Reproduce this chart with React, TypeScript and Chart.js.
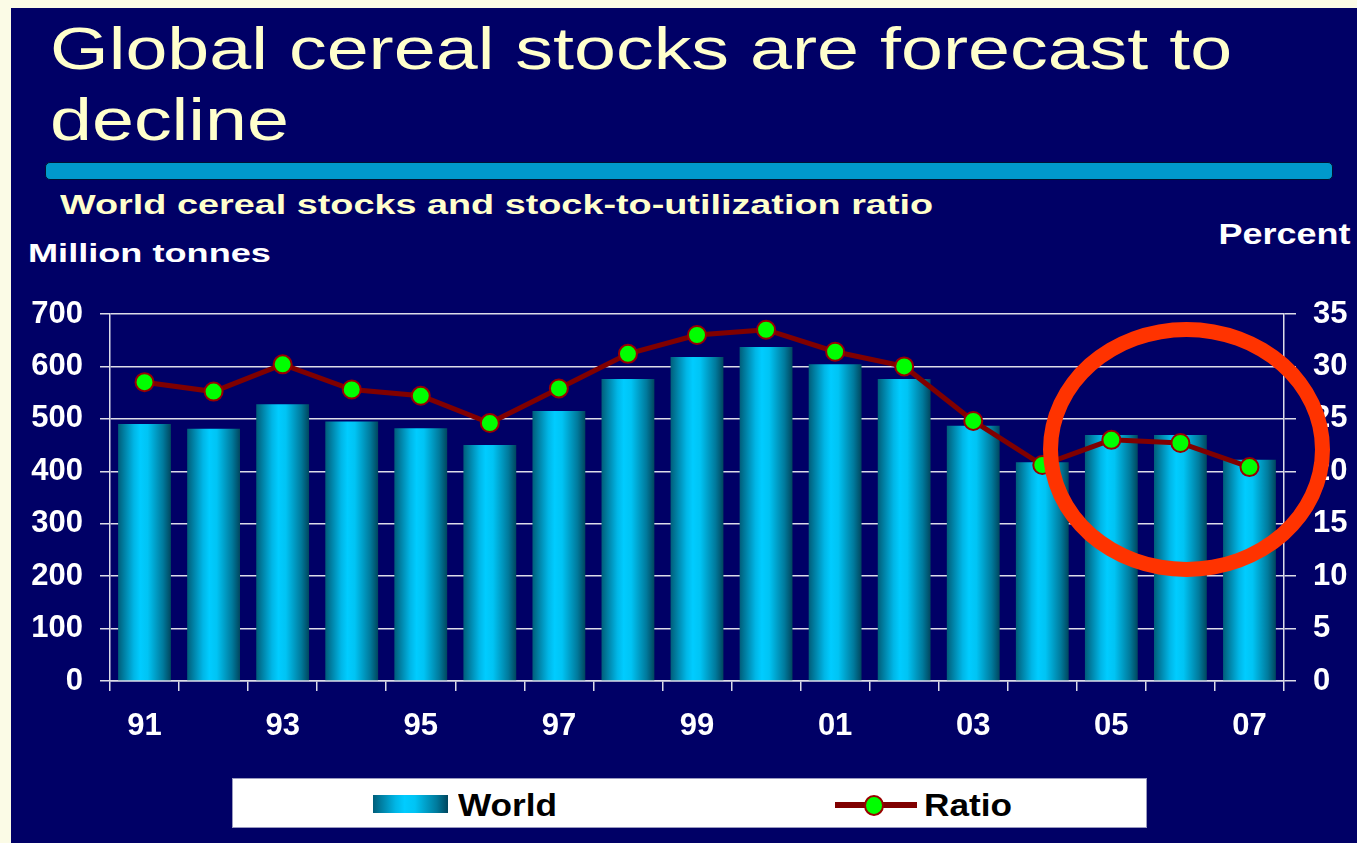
import React, { useEffect, useRef } from 'react';
import { Chart, registerables } from 'chart.js';

Chart.register(...registerables);

const years = ['91', '92', '93', '94', '95', '96', '97', '98', '99', '00', '01', '02', '03', '04', '05', '06', '07'];
const worldStocks = [490, 481, 528, 495, 482, 450, 515, 576, 618, 637, 604, 576, 487, 417, 469, 469, 422];
const ratioPct = [28.5, 27.6, 30.2, 27.8, 27.2, 24.6, 27.9, 31.2, 33.0, 33.5, 31.4, 30.0, 24.8, 20.6, 23.0, 22.7, 20.4];
const leftAxis = { min: 0, max: 700, step: 100 };
const rightAxis = { min: 0, max: 35, step: 5 };

const FONT = "'Liberation Sans', Arial, Helvetica, sans-serif";
const NAVY = '#000066';
const CREAM = '#ffffcc';
const GRID = '#dcdce8';
const BAR_PCT = 0.765;

const gradStops: [number, string][] = [
  [0, '#005e7a'],
  [0.3, '#00b6e6'],
  [0.42, '#00ccff'],
  [0.56, '#00c4f4'],
  [0.85, '#007a9c'],
  [1, '#00465e'],
];

export default function App() {
  const ref = useRef<HTMLCanvasElement>(null);

  useEffect(() => {
    const canvas = ref.current;
    if (!canvas) return;

    const barFill = (ctx: any) => {
      const chart = ctx.chart;
      const xs = chart.scales && chart.scales.x;
      if (ctx.type !== 'data' || !xs) return '#00c6f5';
      const cx = xs.getPixelForValue(ctx.dataIndex);
      const half = ((xs.width / years.length) * BAR_PCT) / 2;
      if (!isFinite(cx) || !isFinite(half) || half <= 0) return '#00c6f5';
      const g = chart.ctx.createLinearGradient(cx - half, 0, cx + half, 0);
      gradStops.forEach(([o, c]) => g.addColorStop(o, c));
      return g;
    };

    const tickFont = { family: FONT, size: 31, weight: 'bold' as const };

    const chart = new Chart(canvas, {
      type: 'bar',
      data: {
        labels: years,
        datasets: [
          {
            type: 'line',
            label: 'Ratio',
            data: ratioPct,
            yAxisID: 'y1',
            borderColor: '#800000',
            borderWidth: 5,
            pointRadius: 9,
            pointBackgroundColor: '#00ff00',
            pointBorderColor: '#990000',
            pointBorderWidth: 2,
            tension: 0,
            order: 0,
          } as any,
          {
            type: 'bar',
            label: 'World',
            data: worldStocks,
            yAxisID: 'y',
            backgroundColor: barFill,
            categoryPercentage: 1,
            barPercentage: BAR_PCT,
            order: 1,
          } as any,
        ],
      },
      options: {
        responsive: false,
        animation: false,
        layout: { padding: { top: 24, left: 0, right: 0, bottom: 0 } },
        plugins: { legend: { display: false }, tooltip: { enabled: false } },
        scales: {
          x: {
            type: 'category',
            offset: true,
            grid: { offset: true, drawOnChartArea: false, drawTicks: true, tickLength: 10, color: GRID, lineWidth: 1.5 },
            border: { display: true, color: GRID, width: 1.5 },
            ticks: {
              color: '#ffffff',
              font: tickFont,
              padding: 17,
              autoSkip: false,
              maxRotation: 0,
              callback: (_v: any, i: number) => (i % 2 === 0 ? years[i] : ''),
            },
            afterFit: (s: any) => {
              s.height = 79;
              s.paddingLeft = 0;
              s.paddingRight = 0;
            },
          },
          y: {
            position: 'left',
            min: leftAxis.min,
            max: leftAxis.max,
            ticks: { stepSize: leftAxis.step, color: '#ffffff', font: tickFont, padding: 17 },
            grid: { color: GRID, lineWidth: 1.5, tickLength: 10 },
            border: { display: true, color: GRID, width: 1.5 },
            afterFit: (s: any) => {
              s.width = 110;
              s.paddingTop = 0;
              s.paddingBottom = 0;
            },
          },
          y1: {
            position: 'right',
            min: rightAxis.min,
            max: rightAxis.max,
            ticks: { stepSize: rightAxis.step, color: '#ffffff', font: tickFont, padding: 17 },
            grid: { drawOnChartArea: false, color: GRID, lineWidth: 1.5, tickLength: 12 },
            border: { display: true, color: GRID, width: 1.5 },
            afterFit: (s: any) => {
              s.width = 73;
              s.paddingTop = 0;
              s.paddingBottom = 0;
            },
          },
        },
      } as any,
    });

    return () => chart.destroy();
  }, []);

  const abs = (o: React.CSSProperties): React.CSSProperties => ({ position: 'absolute', ...o });

  return (
    <div style={abs({ left: 0, top: 0, width: 1357, height: 843, background: '#fbfbe6', overflow: 'hidden', fontFamily: FONT })}>
      <div style={abs({ left: 11, top: 8, width: 1346, height: 835, background: NAVY })} />
      {/* Title */}
      <div
        style={abs({
          left: 50,
          top: 13,
          fontSize: 60,
          lineHeight: '71px',
          color: CREAM,
          whiteSpace: 'nowrap',
          transform: 'scaleX(1.257)',
          transformOrigin: 'left top',
        })}
      >
        Global cereal stocks are forecast to
        <br />
        decline
      </div>
      {/* cyan rule */}
      <div
        style={abs({
          left: 45,
          top: 162,
          width: 1288,
          height: 18,
          background: '#0099cc',
          borderRadius: 5,
          boxSizing: 'border-box',
          border: '1px solid #001133',
        })}
      />
      {/* subtitle */}
      <div
        style={abs({
          left: 60,
          top: 191,
          fontSize: 28,
          lineHeight: '28px',
          fontWeight: 'bold',
          color: CREAM,
          whiteSpace: 'nowrap',
          transform: 'scaleX(1.35)',
          transformOrigin: 'left top',
        })}
      >
        World cereal stocks and stock-to-utilization ratio
      </div>
      <div
        style={abs({
          left: 28,
          top: 240,
          fontSize: 26,
          lineHeight: '26px',
          fontWeight: 'bold',
          color: '#ffffff',
          whiteSpace: 'nowrap',
          transform: 'scaleX(1.39)',
          transformOrigin: 'left top',
        })}
      >
        Million tonnes
      </div>
      <div
        style={abs({
          right: 7,
          top: 220,
          fontSize: 29,
          lineHeight: '29px',
          fontWeight: 'bold',
          color: '#ffffff',
          whiteSpace: 'nowrap',
          transform: 'scaleX(1.24)',
          transformOrigin: 'right top',
        })}
      >
        Percent
      </div>
      <canvas ref={ref} width={1357} height={470} style={abs({ left: 0, top: 290, width: 1357, height: 470 })} />
      {/* annotation ellipse */}
      <div
        style={abs({
          left: 1043,
          top: 322,
          width: 287,
          height: 255,
          borderRadius: '50%',
          border: '15px solid #ff3300',
          boxSizing: 'border-box',
        })}
      />
      {/* legend */}
      <div
        style={abs({
          left: 232,
          top: 778,
          width: 915,
          height: 50,
          background: '#ffffff',
          border: '1px solid #9a9ac0',
          boxSizing: 'border-box',
        })}
      />
      <div
        style={abs({
          left: 373,
          top: 795,
          width: 75,
          height: 18,
          background: `linear-gradient(to right, ${gradStops.map(([o, c]) => `${c} ${o * 100}%`).join(', ')})`,
        })}
      />
      <div
        style={abs({
          left: 458,
          top: 789,
          fontSize: 32,
          lineHeight: '32px',
          fontWeight: 'bold',
          color: '#000000',
          whiteSpace: 'nowrap',
          transform: 'scaleX(1.1)',
          transformOrigin: 'left top',
        })}
      >
        World
      </div>
      <div style={abs({ left: 835, top: 802, width: 82, height: 6, background: '#800000' })} />
      <div
        style={abs({
          left: 864,
          top: 795,
          width: 20,
          height: 21,
          borderRadius: '50%',
          background: '#00ff00',
          border: '2px solid #990000',
          boxSizing: 'border-box',
        })}
      />
      <div
        style={abs({
          left: 924,
          top: 789,
          fontSize: 32,
          lineHeight: '32px',
          fontWeight: 'bold',
          color: '#000000',
          whiteSpace: 'nowrap',
          transform: 'scaleX(1.1)',
          transformOrigin: 'left top',
        })}
      >
        Ratio
      </div>
    </div>
  );
}
